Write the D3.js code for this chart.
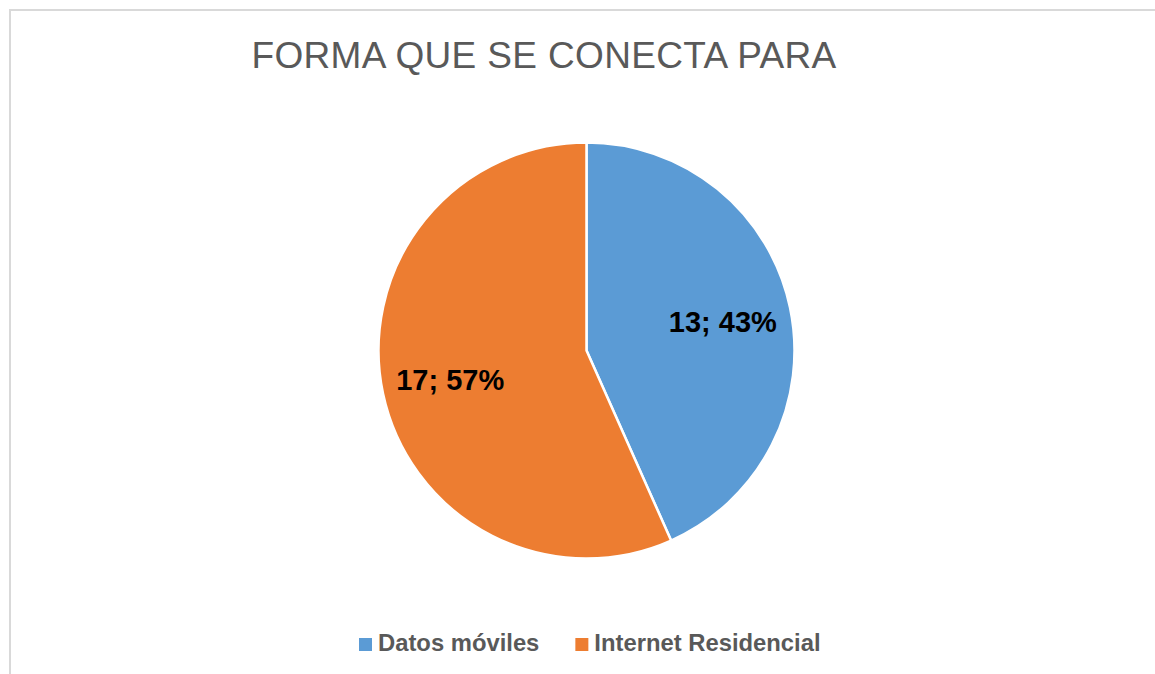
<!DOCTYPE html>
<html lang="es">
<head>
  <meta charset="UTF-8">
  <title>Forma que se conecta para</title>
  <style>
    body { margin: 0; background: #fff; }
    svg { display: block; font-family: "Liberation Sans", Arial, sans-serif; }
  </style>
  <script src="https://d3js.org/d3.v7.min.js"></script>
</head>
<body>
<div id="chart"></div>
<script>
  // data
  var categories = ["Datos móviles", "Internet Residencial"];
  var values = [13, 17];
  var colors = ["#5B9BD5", "#ED7D31"];
  var title = "FORMA QUE SE CONECTA PARA";

  var width = 1155, height = 674;
  var svg = d3.select("#chart").append("svg")
    .attr("width", width)
    .attr("height", height);

  // chart area border (right/bottom run off the picture)
  svg.append("rect")
    .attr("x", 10).attr("y", 10)
    .attr("width", 1200).attr("height", 700)
    .attr("fill", "#fff")
    .attr("stroke", "#d9d9d9")
    .attr("stroke-width", 2);

  svg.append("text")
    .attr("x", 544).attr("y", 68)
    .attr("text-anchor", "middle")
    .attr("fill", "#595959")
    .style("font-size", "37px")
    .style("letter-spacing", "0.35px")
    .text(title);

  var cx = 586.5, cy = 350.5, R = 208;
  var total = d3.sum(values);
  var color = d3.scaleOrdinal().domain(categories).range(colors);

  var pie = d3.pie().sort(null).value(d => d.value);
  var data = pie(categories.map((c, i) => ({ name: c, value: values[i] })));
  var arc = d3.arc().innerRadius(0).outerRadius(R);
  var labelArc = d3.arc().innerRadius(R * 0.67).outerRadius(R * 0.67);

  var g = svg.append("g").attr("transform", `translate(${cx},${cy})`);

  g.selectAll("path")
    .data(data)
    .enter().append("path")
    .attr("d", arc)
    .attr("fill", d => color(d.data.name))
    .attr("stroke", "#fff")
    .attr("stroke-width", 2.5)
    .attr("stroke-linejoin", "round");

  g.selectAll("text")
    .data(data)
    .enter().append("text")
    .attr("transform", d => `translate(${labelArc.centroid(d)})`)
    .attr("text-anchor", "middle")
    .attr("dy", "0.36em")
    .attr("fill", "#000")
    .style("font-size", "29px")
    .style("font-weight", "bold")
    .text(d => d.data.value + "; " + Math.round(d.data.value / total * 100) + "%");

  // legend
  var legend = svg.append("g");
  var lx = 359, ly = 651;
  categories.forEach(function(c, i) {
    legend.append("rect")
      .attr("x", lx).attr("y", ly - 13)
      .attr("width", 13).attr("height", 13)
      .attr("fill", color(c));
    var t = legend.append("text")
      .attr("x", lx + 19).attr("y", ly)
      .attr("fill", "#595959")
      .style("font-size", "23.8px")
      .style("font-weight", "bold")
      .text(c);
    lx += 19 + t.node().getComputedTextLength() + 36;
  });
</script>
</body>
</html>
